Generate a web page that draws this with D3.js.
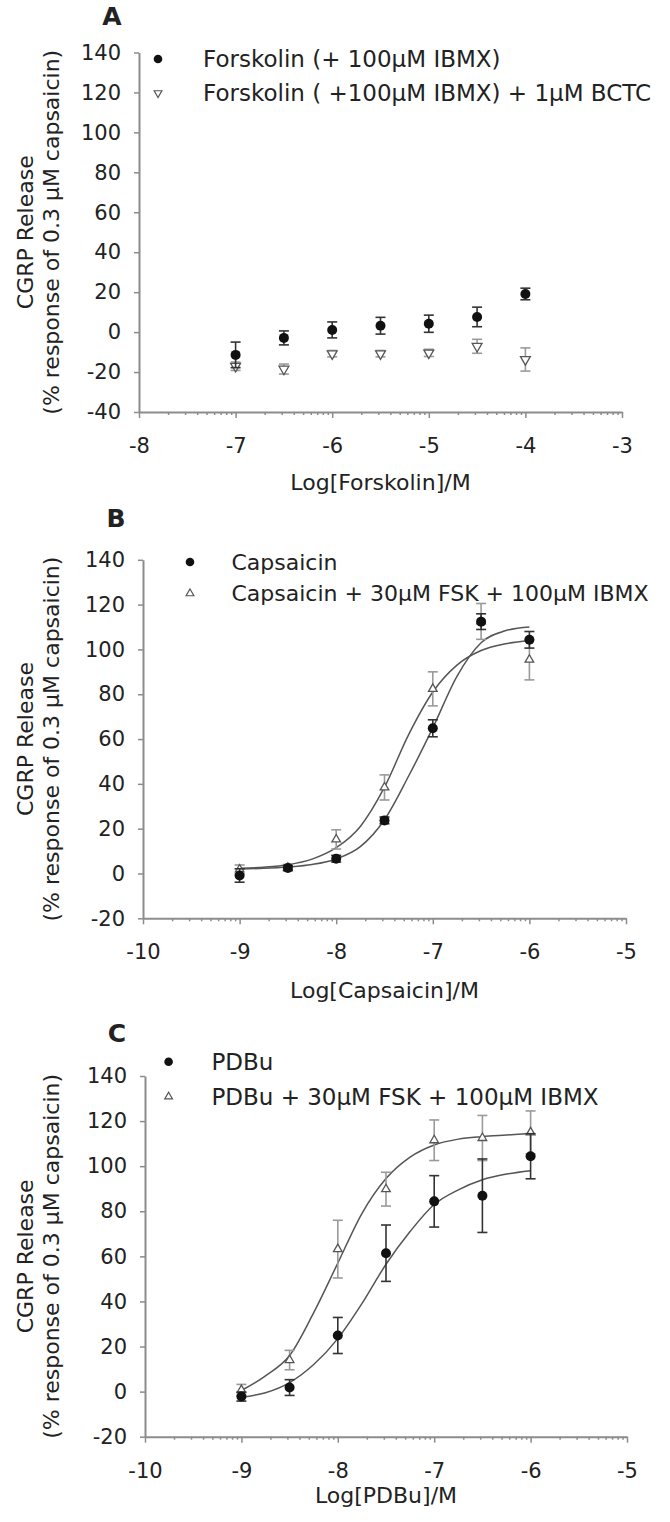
<!DOCTYPE html>
<html>
<head>
<meta charset="utf-8">
<script src="https://d3js.org/d3.v7.min.js"></script>
<style>
  body { margin: 0; background: #fff; }
  svg text { font-family: "DejaVu Sans", sans-serif; fill: #222; }
</style>
</head>
<body>
<div id="chart"></div>
<script>
// ---- values ----

// panel A: forskolin alone (+IBMX) and with BCTC
const logForskolin = [-7, -6.5, -6, -5.5, -5, -4.5, -4];
const fskIbmxMean = [-11.4, -2.9, 1.1, 3.2, 4.2, 7.6, 19.1];
const fskIbmxErr = [6.4, 3.5, 4, 4.2, 4.3, 4.9, 2.9];
const fskBctcMean = [-17.1, -18.5, -10.8, -10.8, -10.4, -7.1, -13.7];
const fskBctcErr = [2.1, 2.5, 1.6, 1.6, 1.8, 3.5, 5.8];

// panel B: capsaicin with / without FSK + IBMX
const logCapsaicin = [-9, -8.5, -8, -7.5, -7, -6.5, -6];
const capsaicinMean = [-0.9, 2.5, 6.6, 23.7, 64.8, 112.4, 104.3];
const capsaicinErr = [3, 1, 1.5, 1.5, 3.8, 3.5, 3.7];
const capFskMean = [1.8, 2.5, 15.2, 38.4, 82.4, 112.5, 95.4];
const capFskErr = [2, 1.5, 4.3, 5.6, 7.6, 8, 9];
// fitted curves: [log conc, response]
const capsaicinFit = [[-9, 2], [-8.75, 2.3], [-8.5, 2.9], [-8.25, 4], [-8, 6.5], [-7.75, 12], [-7.5, 24],
  [-7.25, 43.5], [-7, 65], [-6.75, 88], [-6.5, 103], [-6.25, 108.3], [-6, 110]];
const capFskFit = [[-9, 2.3], [-8.75, 2.8], [-8.5, 3.9], [-8.25, 6.4], [-8, 11.5], [-7.75, 21], [-7.5, 38.5],
  [-7.25, 62], [-7, 81], [-6.75, 93], [-6.5, 99.5], [-6.25, 102.5], [-6, 104]];

// panel C: PDBu with / without FSK + IBMX
const logPdbu = [-9, -8.5, -8, -7.5, -7, -6.5, -6];
const pdbuMean = [-2.2, 1.8, 24.9, 61.4, 84.4, 86.9, 104.4];
const pdbuErr = [2, 3.5, 8, 12.5, 11.4, 16.3, 10];
const pdbuFskMean = [0.7, 14, 63.2, 89.8, 111.5, 112.5, 115];
const pdbuFskErr = [2.5, 4.3, 12.8, 7.5, 9, 10, 9.5];
const pdbuFit = [[-9, -2.5], [-8.75, -0.5], [-8.5, 4], [-8.25, 12], [-8, 23.5], [-7.75, 39], [-7.5, 56.5],
  [-7.25, 71], [-7, 83], [-6.75, 89.5], [-6.5, 94], [-6.25, 96.5], [-6, 98]];
const pdbuFskFit = [[-9, 0.5], [-8.75, 7], [-8.5, 16], [-8.25, 35], [-8, 57], [-7.75, 79], [-7.5, 94.5],
  [-7.25, 104], [-7, 109.4], [-6.75, 112], [-6.5, 113.1], [-6.25, 113.8], [-6, 114.5]];

// axes
const xTicksA = [-8, -7, -6, -5, -4, -3];
const xTicksBC = [-10, -9, -8, -7, -6, -5];
const yTicksA = [-40, -20, 0, 20, 40, 60, 80, 100, 120, 140];
const yTicksBC = [-20, 0, 20, 40, 60, 80, 100, 120, 140];

// labels
const yTitle = ["CGRP Release", "(% response of 0.3 \u03bcM capsaicin)"];
const legendA = ["Forskolin (+ 100\u03bcM IBMX)", "Forskolin ( +100\u03bcM IBMX) + 1\u03bcM BCTC"];
const legendB = ["Capsaicin", "Capsaicin + 30\u03bcM FSK + 100\u03bcM IBMX"];
const legendC = ["PDBu", "PDBu + 30\u03bcM FSK + 100\u03bcM IBMX"];

// ---- layout ----
const W = 670, H = 1522;
const axisColor = "#8c8c8c";

const panels = [
  {
    letter: "A", letterPos: [112, 25],
    left: 139, right: 622, top: 52.5, bottom: 412,
    xTicks: xTicksA, yTicks: yTicksA, xTitle: "Log[Forskolin]/M", xTitleY: 490,
    legend: legendA, legendY: [59, 93], legendMarkX: 158, legendTextX: 203, legendFont: 23,
    openShape: "down",
    filled: { x: logForskolin, mean: fskIbmxMean, err: fskIbmxErr },
    open: { x: logForskolin, mean: fskBctcMean, err: fskBctcErr }
  },
  {
    letter: "B", letterPos: [116, 527],
    left: 143, right: 626, top: 559.8, bottom: 918.3,
    xTicks: xTicksBC, yTicks: yTicksBC, xTitle: "Log[Capsaicin]/M", xTitleY: 998,
    legend: legendB, legendY: [562, 593.5], legendMarkX: 190, legendTextX: 231.5, legendFont: 22,
    openShape: "up",
    filled: { x: logCapsaicin, mean: capsaicinMean, err: capsaicinErr, fit: capsaicinFit },
    open: { x: logCapsaicin, mean: capFskMean, err: capFskErr, fit: capFskFit }
  },
  {
    letter: "C", letterPos: [117, 1042],
    left: 145, right: 627, top: 1076, bottom: 1436.7,
    xTicks: xTicksBC, yTicks: yTicksBC, xTitle: "Log[PDBu]/M", xTitleY: 1503,
    legend: legendC, legendY: [1061.7, 1096.7], legendMarkX: 168.6, legendTextX: 211.4, legendFont: 23,
    openShape: "up",
    filled: { x: logPdbu, mean: pdbuMean, err: pdbuErr, fit: pdbuFit },
    open: { x: logPdbu, mean: pdbuFskMean, err: pdbuFskErr, fit: pdbuFskFit }
  }
];

const svg = d3.select("#chart")
  .append("svg")
  .attr("width", W)
  .attr("height", H)
  .style("display", "block");

svg.append("rect").attr("width", W).attr("height", H).attr("fill", "#fff");

const triangle = (shape, size) => {
  const path = d3.symbol(d3.symbolTriangle).size(size)();
  return { path: path, rot: shape === "down" ? 180 : 0 };
};

const drawPanel = (p) => {
  const g = svg.append("g");
  const xDom = [p.xTicks[0], p.xTicks[p.xTicks.length - 1]];
  const yDom = [p.yTicks[0], p.yTicks[p.yTicks.length - 1]];

  const x = d3.scaleLinear().domain(xDom).range([p.left, p.right]);
  const y = d3.scaleLinear().domain(yDom).range([p.bottom, p.top]);

  // log-style minor ticks between the decades
  const minor = d3.range(xDom[0], xDom[1]).flatMap(d => d3.range(2, 10).map(k => d + Math.log10(k)));

  g.append("g")
    .attr("transform", "translate(0," + p.bottom + ")")
    .call(d3.axisBottom(x).tickValues(minor).tickSize(3).tickSizeOuter(0).tickFormat(""))
    .call(a => a.select(".domain").remove());

  const xAxis = g.append("g")
    .attr("transform", "translate(0," + p.bottom + ")")
    .call(d3.axisBottom(x).tickValues(p.xTicks).tickSize(6).tickSizeOuter(0)
      .tickPadding(20).tickFormat(d => String(d)));

  const yAxis = g.append("g")
    .attr("transform", "translate(" + p.left + ",0)")
    .call(d3.axisLeft(y).tickValues(p.yTicks).tickSize(5).tickSizeOuter(0)
      .tickPadding(13).tickFormat(d => String(d)));

  g.selectAll(".domain").attr("stroke", axisColor).attr("stroke-width", 2);
  g.selectAll(".tick line").attr("stroke", axisColor).attr("stroke-width", 1.5);
  [xAxis, yAxis].forEach(a => a.selectAll("text")
    .attr("font-size", 21)
    .attr("font-family", "DejaVu Sans, sans-serif")
    .attr("fill", "#222"));

  // titles
  g.append("text")
    .attr("x", p.letterPos[0]).attr("y", p.letterPos[1])
    .attr("text-anchor", "middle")
    .attr("font-size", 25).attr("font-weight", "bold")
    .text(p.letter);

  g.append("text")
    .attr("x", (p.left + p.right) / 2).attr("y", p.xTitleY)
    .attr("text-anchor", "middle")
    .attr("font-size", 22)
    .text(p.xTitle);

  const yMid = (p.top + p.bottom) / 2;
  yTitle.forEach((t, i) => {
    g.append("text")
      .attr("transform", "translate(" + (i === 0 ? 33 : 59) + "," + yMid + ") rotate(-90)")
      .attr("text-anchor", "middle")
      .attr("font-size", 22)
      .text(t);
  });

  // fitted curves
  const line = d3.line().x(d => x(d[0])).y(d => y(d[1])).curve(d3.curveMonotoneX);
  [p.open, p.filled].forEach(s => {
    if (!s.fit) return;
    g.append("path")
      .attr("d", line(s.fit))
      .attr("fill", "none")
      .attr("stroke", "#555")
      .attr("stroke-width", 1.5);
  });

  // error bars + markers
  const drawSeries = (s, isOpen) => {
    const pts = s.x.map((v, i) => ({ x: v, m: s.mean[i], e: s.err[i] }));
    const col = isOpen ? "#9a9a9a" : "#333";
    const eb = g.append("g").attr("stroke", col).attr("stroke-width", 1.6);
    pts.forEach(d => {
      const cx = x(d.x);
      eb.append("line").attr("x1", cx).attr("x2", cx).attr("y1", y(d.m - d.e)).attr("y2", y(d.m + d.e));
      [d.m - d.e, d.m + d.e].forEach(v => {
        eb.append("line").attr("x1", cx - 5).attr("x2", cx + 5).attr("y1", y(v)).attr("y2", y(v));
      });
    });
    if (isOpen) {
      const tri = triangle(p.openShape, p.openShape === "down" ? 42 : 32);
      g.selectAll(null).data(pts).enter().append("path")
        .attr("d", tri.path)
        .attr("transform", d => "translate(" + x(d.x) + "," + y(d.m) + ") rotate(" + tri.rot + ")")
        .attr("fill", "#fff")
        .attr("stroke", "#555")
        .attr("stroke-width", 1.3);
    } else {
      g.selectAll(null).data(pts).enter().append("circle")
        .attr("cx", d => x(d.x)).attr("cy", d => y(d.m))
        .attr("r", 5)
        .attr("fill", "#111");
    }
  };
  drawSeries(p.open, true);
  drawSeries(p.filled, false);

  // legend
  const lg = g.append("g");
  lg.append("circle")
    .attr("cx", p.legendMarkX).attr("cy", p.legendY[0]).attr("r", 4.3).attr("fill", "#111");
  const ltri = triangle(p.openShape, 26);
  lg.append("path")
    .attr("d", ltri.path)
    .attr("transform", "translate(" + p.legendMarkX + "," + p.legendY[1] + ") rotate(" + ltri.rot + ")")
    .attr("fill", "#fff").attr("stroke", "#555").attr("stroke-width", 1.2);
  p.legend.forEach((t, i) => {
    lg.append("text")
      .attr("x", p.legendTextX).attr("y", p.legendY[i])
      .attr("dy", "0.36em")
      .attr("font-size", p.legendFont)
      .text(t);
  });
};

panels.forEach(drawPanel);
</script>
</body>
</html>
